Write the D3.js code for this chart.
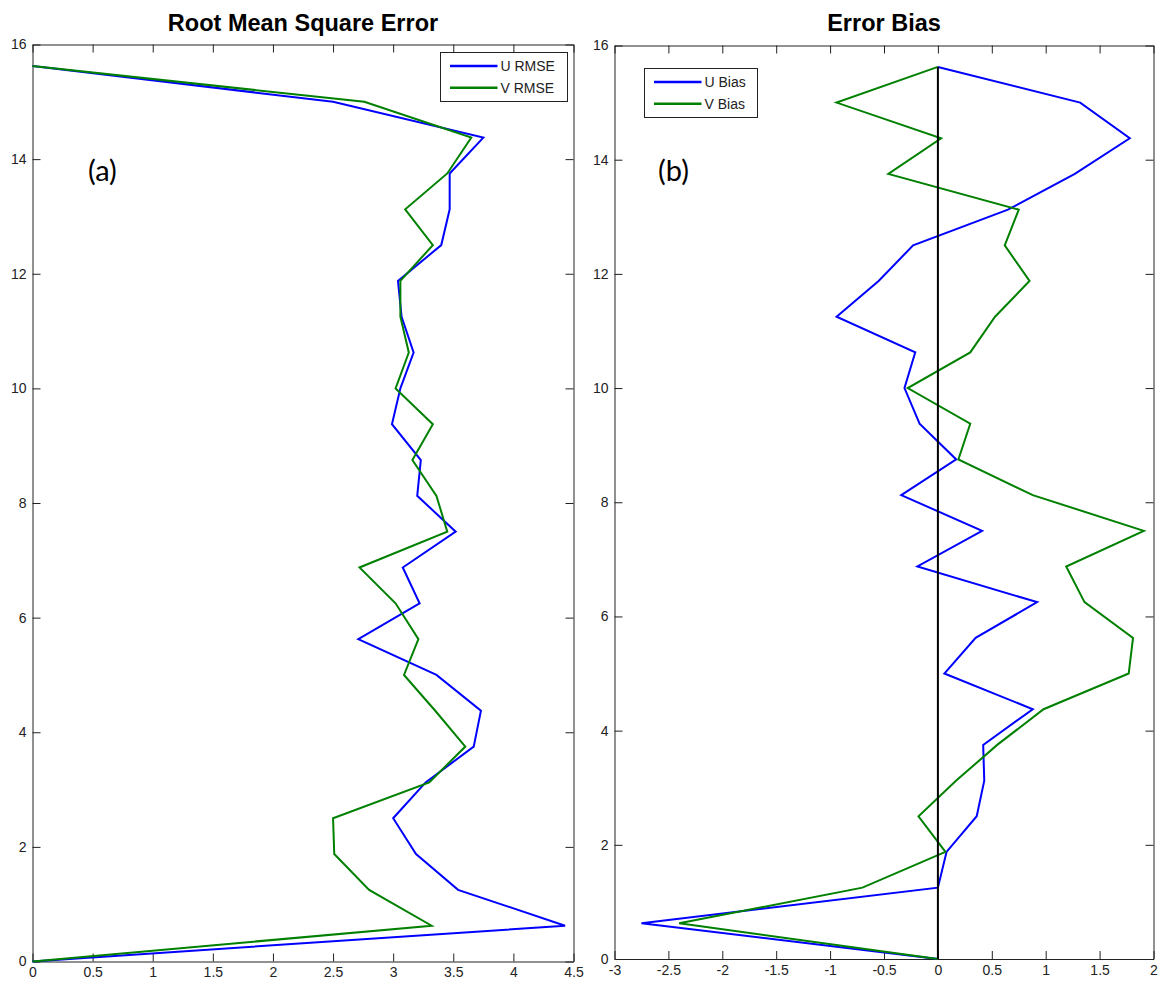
<!DOCTYPE html>
<html>
<head>
<meta charset="utf-8">
<script src="https://cdn.jsdelivr.net/npm/d3@7"></script>
<style>
  html, body { margin: 0; padding: 0; background: #ffffff; }
  svg { display: block; }
  .tick text { font-family: "Liberation Sans", Arial, sans-serif; font-size: 14px; fill: #222; }
  .tick line { stroke: #222; }
  .domain { stroke: #222; }
</style>
</head>
<body>
<svg id="chart" width="1159" height="981"></svg>
<script>
// Depth levels shared by every profile
const depthLevels = [0, 0.625, 1.25, 1.875, 2.5, 3.125, 3.75, 4.375, 5, 5.625, 6.25, 6.875, 7.5,
  8.125, 8.75, 9.375, 10, 10.625, 11.25, 11.875, 12.5, 13.125, 13.75, 14.375, 15, 15.625];

// Root mean square error of U and V at each level
const uRmse = [0, 4.43, 3.54, 3.19, 3.00, 3.27, 3.67, 3.73, 3.36, 2.71, 3.22, 3.08, 3.52,
  3.20, 3.23, 2.99, 3.06, 3.17, 3.07, 3.04, 3.40, 3.47, 3.47, 3.75, 2.50, 0];
const vRmse = [0, 3.32, 2.80, 2.51, 2.50, 3.30, 3.60, 3.35, 3.09, 3.21, 3.02, 2.72, 3.45,
  3.36, 3.16, 3.33, 3.02, 3.13, 3.06, 3.06, 3.33, 3.10, 3.45, 3.65, 2.76, 0];

// Mean bias of U and V at each level
const uBias = [0, -2.75, 0.00, 0.08, 0.36, 0.43, 0.42, 0.88, 0.06, 0.35, 0.92, -0.19, 0.41,
  -0.34, 0.17, -0.17, -0.31, -0.21, -0.94, -0.55, -0.23, 0.65, 1.27, 1.78, 1.32, 0];
const vBias = [0, -2.40, -0.70, 0.07, -0.18, 0.17, 0.55, 0.98, 1.77, 1.81, 1.36, 1.19, 1.91,
  0.88, 0.19, 0.30, -0.28, 0.30, 0.53, 0.85, 0.62, 0.75, -0.46, 0.03, -0.94, 0];

// Zero reference for the bias panel
const zeroRefValues = [0, 0];
const zeroRefDepths = [0, 15.625];

// Tick values
const depthTicks = [0, 2, 4, 6, 8, 10, 12, 14, 16];
const rmseTicks = [0, 0.5, 1, 1.5, 2, 2.5, 3, 3.5, 4, 4.5];
const biasTicks = [-3, -2.5, -2, -1.5, -1, -0.5, 0, 0.5, 1, 1.5, 2];

const svg = d3.select("#chart");
const BLUE = "#0000ff", GREEN = "#008000";

function profile(values) {
  return values.map((v, i) => ({ v: v, d: depthLevels[i] }));
}

function panel(opts) {
  const { left, right, top, bottom, xDomain, xTicks, title, tag, tagX } = opts;
  const x = d3.scaleLinear().domain(xDomain).range([left, right]);
  const y = d3.scaleLinear().domain([0, 16]).range([bottom, top]);
  const g = svg.append("g");
  const tickLen = 8;
  const fmt = d => String(d);

  // Bottom axis with labels, ticks pointing inward
  g.append("g").attr("transform", `translate(0,${bottom})`)
    .call(d3.axisBottom(x).tickValues(xTicks).tickFormat(fmt).tickSizeInner(-tickLen).tickSizeOuter(0).tickPadding(6));
  // Top axis, ticks only
  g.append("g").attr("transform", `translate(0,${top})`)
    .call(d3.axisTop(x).tickValues(xTicks).tickFormat("").tickSizeInner(-tickLen).tickSizeOuter(0));
  // Left axis with labels
  g.append("g").attr("transform", `translate(${left},0)`)
    .call(d3.axisLeft(y).tickValues(depthTicks).tickFormat(fmt).tickSizeInner(-tickLen).tickSizeOuter(0).tickPadding(6));
  // Right axis, ticks only
  g.append("g").attr("transform", `translate(${right},0)`)
    .call(d3.axisRight(y).tickValues(depthTicks).tickFormat("").tickSizeInner(-tickLen).tickSizeOuter(0));

  g.selectAll(".tick line").attr("stroke", "#222");
  g.selectAll(".domain").attr("stroke", "#222");

  // Title
  g.append("text")
    .attr("x", (left + right) / 2).attr("y", 31)
    .attr("text-anchor", "middle")
    .style("font-family", "'Liberation Sans', Arial, sans-serif")
    .style("font-weight", "bold").style("font-size", "23.5px")
    .attr("fill", "#000")
    .text(title);

  // Panel tag
  g.append("text")
    .attr("x", tagX).attr("y", 181)
    .style("font-family", "Lato, 'Open Sans', sans-serif")
    .style("font-size", "29px")
    .attr("fill", "#000")
    .text(tag);

  return { g, x, y };
}

function drawLine(p, data, color, width) {
  const line = d3.line().x(d => p.x(d.v)).y(d => p.y(d.d));
  p.g.append("path").datum(data)
    .attr("d", line)
    .attr("fill", "none")
    .attr("stroke", color)
    .attr("stroke-width", width)
    .attr("stroke-linejoin", "miter");
}

function legend(g, bx, by, bw, bh, items) {
  const lg = g.append("g");
  lg.append("rect").attr("x", bx).attr("y", by).attr("width", bw).attr("height", bh)
    .attr("fill", "#fff").attr("stroke", "#222").attr("stroke-width", 1);
  items.forEach((it, i) => {
    const ly = by + 13.5 + i * 21.7;
    lg.append("line").attr("x1", bx + 9.5).attr("x2", bx + 57).attr("y1", ly).attr("y2", ly)
      .attr("stroke", it.color).attr("stroke-width", 2.5);
    lg.append("text").attr("x", bx + 60).attr("y", ly + 5)
      .style("font-family", "'Liberation Sans', Arial, sans-serif")
      .style("font-size", "14px").attr("fill", "#222")
      .text(it.label);
  });
}

// (a) RMSE panel
const pa = panel({ left: 32.5, right: 573.5, top: 44.5, bottom: 961.5,
  xDomain: [0, 4.5], xTicks: rmseTicks, title: "Root Mean Square Error", tag: "(a)", tagX: 88 });
drawLine(pa, profile(uRmse), BLUE, 2);
drawLine(pa, profile(vRmse), GREEN, 2);
legend(pa.g, 440.5, 52.5, 127, 49, [
  { label: "U RMSE", color: BLUE },
  { label: "V RMSE", color: GREEN }
]);

// (b) Bias panel
const pb = panel({ left: 614.5, right: 1153.5, top: 45.5, bottom: 959,
  xDomain: [-3, 2], xTicks: biasTicks, title: "Error Bias", tag: "(b)", tagX: 658 });
drawLine(pb, profile(uBias), BLUE, 2);
drawLine(pb, profile(vBias), GREEN, 2);
drawLine(pb, zeroRefValues.map((v, i) => ({ v: v, d: zeroRefDepths[i] })), "#000", 2);
legend(pb.g, 644.5, 68.5, 113, 49, [
  { label: "U Bias", color: BLUE },
  { label: "V Bias", color: GREEN }
]);
</script>
</body>
</html>
